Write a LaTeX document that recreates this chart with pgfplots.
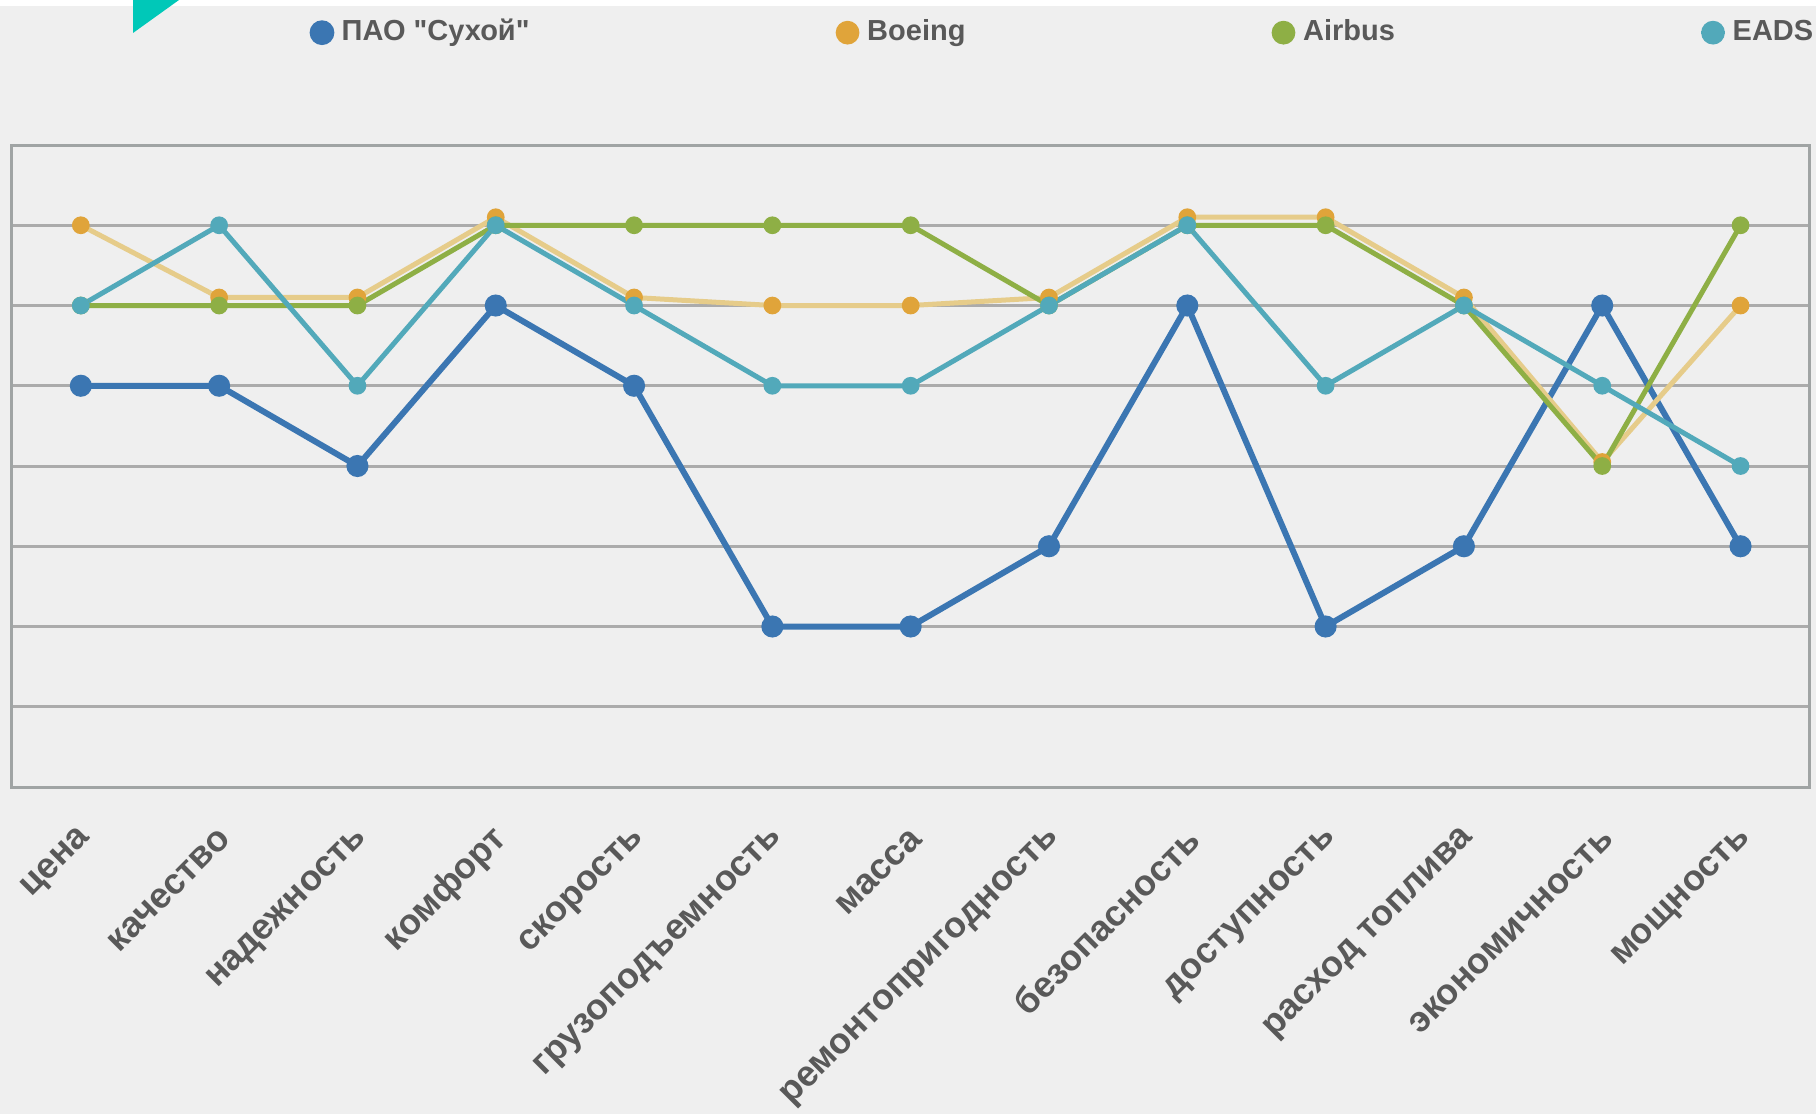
\documentclass[border=0pt]{standalone}
\usepackage{pgfplots}
\pgfplotsset{compat=1.18}
\usepackage{fontspec}
\setmainfont{Liberation Sans}[Ligatures=TeXOff]

\definecolor{bg}{HTML}{EFEFEF}
\definecolor{gridc}{HTML}{ABABAB}
\definecolor{boxc}{HTML}{A0A4A4}
\definecolor{txt}{HTML}{595959}
\definecolor{suhoi}{HTML}{3B76B2}
\definecolor{boeingl}{HTML}{E6CC8A}
\definecolor{boeingm}{HTML}{E0A43A}
\definecolor{airbus}{HTML}{8EAF45}
\definecolor{eads}{HTML}{52A9BA}
\definecolor{corner}{HTML}{00C8B8}

\begin{document}
\begin{tikzpicture}
% picture frame: 1816 x 1114 px at 0.3pt per px
\useasboundingbox (0,0) rectangle (544.8pt,334.2pt);
\fill[bg] (0,0) rectangle (544.8pt,334.2pt);
\fill[white] (0,332.4pt) rectangle (544.8pt,334.2pt);
\fill[corner] (39.9pt,334.2pt) -- (53.7pt,334.2pt) -- (39.9pt,324.3pt) -- cycle;

\begin{axis}[
    at={(3.5pt,98.1pt)}, anchor=south west,
    scale only axis,
    width=539.4pt, height=192.6pt,
    xmin=-0.5, xmax=12.5,
    ymin=0, ymax=8,
    xtick={0,...,12},
    xticklabels={цена, качество, надежность, комфорт, скорость, грузоподъемность, масса, ремонтопригодность, безопасность, доступность, расход топлива, экономичность, мощность},
    ytick={1,...,7},
    yticklabels={},
    major tick length=0pt,
    ymajorgrids,
    major grid style={draw=gridc, line width=0.9pt},
    axis line style={draw=boxc, line width=0.9pt},
    xticklabel style={xshift=1.9pt, yshift=-14pt, rotate=45, anchor=east, inner sep=0pt,
        font=\fontsize{10.8pt}{12pt}\selectfont\bfseries, text=txt},
    legend columns=4,
    legend style={at={(0.165,1.175)}, anchor=west, draw=none, fill=none,
        inner sep=0pt,
        font=\fontsize{8.7pt}{10pt}\selectfont\bfseries, text=txt,
        /tikz/every even column/.append style={column sep=89.5pt}},
    legend image code/.code={\draw[#1, mark=none, line width=0.8pt] (-3.5pt,0pt) -- (3.5pt,0pt);
        \draw[#1] plot[mark=*, mark size=2.8pt] coordinates {(0pt,0pt)};},
]
% ПАО "Сухой"
\addplot[color=suhoi, line width=1.8pt, mark=*, mark size=2.4pt] coordinates {
(0,5) (1,5) (2,4) (3,6) (4,5) (5,2) (6,2) (7,3) (8,6) (9,2) (10,3) (11,6) (12,3)
};
\addlegendentry{ПАО "Сухой"}

% Boeing
\addplot[color=boeingl, line width=1.5pt, mark=*, mark size=1.9pt,
    mark options={fill=boeingm, draw=boeingm}] coordinates {
(0,7) (1,6.1) (2,6.1) (3,7.1) (4,6.1) (5,6) (6,6) (7,6.1) (8,7.1) (9,7.1) (10,6.1) (11,4.05) (12,6)
};
\addlegendentry{Boeing}

% Airbus
\addplot[color=airbus, line width=1.5pt, mark=*, mark size=1.9pt] coordinates {
(0,6) (1,6) (2,6) (3,7) (4,7) (5,7) (6,7) (7,6) (8,7) (9,7) (10,6) (11,4) (12,7)
};
\addlegendentry{Airbus}

% EADS
\addplot[color=eads, line width=1.5pt, mark=*, mark size=1.9pt] coordinates {
(0,6) (1,7) (2,5) (3,7) (4,6) (5,5) (6,5) (7,6) (8,7) (9,5) (10,6) (11,5) (12,4)
};
\addlegendentry{EADS}
\end{axis}
\end{tikzpicture}
\end{document}
